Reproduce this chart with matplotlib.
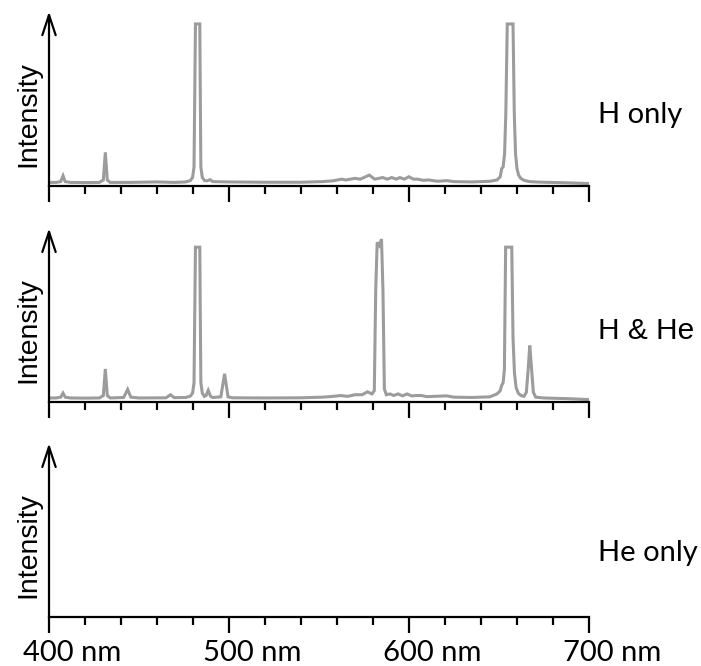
import matplotlib
matplotlib.use('Agg')
import matplotlib.pyplot as plt
import matplotlib.transforms as mtransforms
from matplotlib.ticker import MultipleLocator

# spectra (nm, arbitrary intensity, flat tops = saturated detector)
wl_h = [400, 404, 406.5, 407.8, 409, 412, 420, 428, 430.2, 431.3, 432.4, 434, 445, 460, 470,
        476, 478.5, 479.8, 480.6, 481.4, 483.8, 484.4, 485.2, 486.5, 488, 489.5, 491, 500,
        520, 540, 552, 558, 562.6, 565, 570, 573, 578, 581, 585.5, 588, 590.5, 593, 595,
        597.5, 600, 602.5, 605, 608, 611, 616, 621, 625, 635, 645, 649, 650.8, 651.6, 652.4,
        653.2, 653.9, 654.7, 657.9, 658.6, 659.3, 660.1, 661, 662.2, 664, 667, 672, 690, 700]
int_h = [2.5, 2.5, 3, 6.6, 3, 2.5, 2.4, 2.5, 4, 21, 4, 2.5, 2.5, 2.8, 2.5,
         2.8, 3.6, 5.5, 12, 100, 100, 12, 5.5, 3.6, 3.5, 4.2, 3, 2.8,
         2.6, 2.6, 3, 3.5, 4.5, 4, 5, 4.5, 7, 4.5, 5.5, 4.5, 5.5, 4.5, 5.5,
         4.5, 6, 4.5, 4.5, 3.8, 4, 3.2, 3.6, 3, 2.8, 3.2, 4, 6, 11, 12,
         20, 45, 100, 100, 45, 20, 11, 7, 5, 3.8, 3, 2.7, 2.2, 1.8]

wl_hhe = [400, 404, 406.5, 407.8, 409, 412, 420, 428, 430.2, 431.3, 432.4, 434, 441.5, 443.7,
          445.5, 450, 465, 467.6, 469.5, 476, 478.5, 479.8, 480.6, 481.4, 483.8, 484.4, 485.2,
          486.3, 487.3, 488.5, 489.8, 491, 495.5, 497.6, 499.5, 502, 520, 540, 552, 558, 562,
          566, 570, 574, 577, 579.5, 580.8, 581.6, 582.4, 583.6, 584.8, 585.6, 586.4, 587.5,
          589.6, 591.5, 594, 596.5, 599, 601.5, 604, 607, 610, 614, 621, 625, 635, 645, 649,
          650.8, 651.6, 652.4, 653.1, 653.8, 657.2, 657.9, 658.7, 659.6, 660.8, 662.3, 664,
          665.3, 666.3, 667.2, 668.1, 669.2, 670.5, 675, 690, 700]
int_hhe = [2.5, 2.5, 3, 5.5, 3, 2.5, 2.4, 2.5, 4, 20.5, 4, 2.5, 2.8, 7.8,
           3, 2.5, 2.6, 4.5, 2.7, 2.8, 3.6, 5.5, 12, 96, 96, 12, 5.5,
           3.5, 4, 7.2, 3.5, 2.8, 3.2, 17.5, 3.2, 2.6, 2.5, 2.6, 3, 3.5, 4,
           3.5, 4.5, 4.5, 6.3, 5, 7, 70, 99, 97, 101, 70, 8, 4.5,
           5, 4, 5, 3.8, 5, 3.8, 4, 4, 3.3, 3.5, 3.8, 3, 2.8, 3.2, 5,
           7, 10.3, 12, 20, 96, 96, 40, 18, 9, 5.5, 4, 3.5,
           6, 20, 35, 22, 6, 3, 2.5, 2, 1.5]

panel_labels = ['H only', 'H & He', 'He only']
label_fonts = ['Lato', 'Liberation Sans', 'Lato']
label_sizes = [21, 21.5, 21]
label_y = [0.363, 0.361, 0.324]
major_ticks = [400, 500, 600, 700]
tick_labels = ['400 nm', '500 nm', '600 nm', '700 nm']

fig = plt.figure(figsize=(7.01, 6.66), dpi=100)
rects = [[0.0699, 0.720, 0.770, 0.2628],
         [0.0699, 0.3964, 0.770, 0.2608],
         [0.0699, 0.0731, 0.770, 0.2613]]
spectra = [(wl_h, int_h), (wl_hhe, int_hhe), None]

for i, rect in enumerate(rects):
    ax = fig.add_axes(rect)
    if spectra[i] is not None:
        ax.plot(spectra[i][0], spectra[i][1], color='#9c9c9c', lw=2.2,
                solid_joinstyle='miter')
    ax.set_xlim(400, 700)
    ax.set_ylim(0, 107.7)
    for s in ['left', 'top', 'right']:
        ax.spines[s].set_visible(False)
    ax.spines['bottom'].set_linewidth(1.6)
    ax.set_yticks([])
    ax.set_xticks(major_ticks)
    ax.xaxis.set_minor_locator(MultipleLocator(20))
    ax.tick_params(axis='x', which='major', length=11.5, width=1.6, direction='out')
    ax.tick_params(axis='x', which='minor', length=6, width=1.6, direction='out')
    if i == 2:
        ax.set_xticklabels(tick_labels, fontsize=21, family='Lato')
        ax.tick_params(axis='x', which='major', pad=5)
        shift = mtransforms.ScaledTranslation(-26 / 100, 0, fig.dpi_scale_trans)
        for lab in ax.get_xticklabels():
            lab.set_horizontalalignment('left')
            lab.set_transform(lab.get_transform() + shift)
    else:
        ax.tick_params(axis='x', labelbottom=False)

    ax.annotate('', xy=(0, 1), xytext=(0, 0), xycoords='axes fraction',
                arrowprops=dict(arrowstyle='->,head_length=1.45,head_width=0.48',
                                lw=1.6, color='black', shrinkA=0, shrinkB=0,
                                mutation_scale=10),
                annotation_clip=False)
    ax.text(-0.026, 0.413, 'Intensity', rotation=90, rotation_mode='anchor',
            ha='center', va='baseline', fontsize=20.5, family='Liberation Sans',
            transform=ax.transAxes)
    ax.text(1.0167, label_y[i], panel_labels[i], ha='left', va='baseline',
            fontsize=label_sizes[i], family=label_fonts[i], transform=ax.transAxes)

fig.savefig('out.png', dpi=100)
